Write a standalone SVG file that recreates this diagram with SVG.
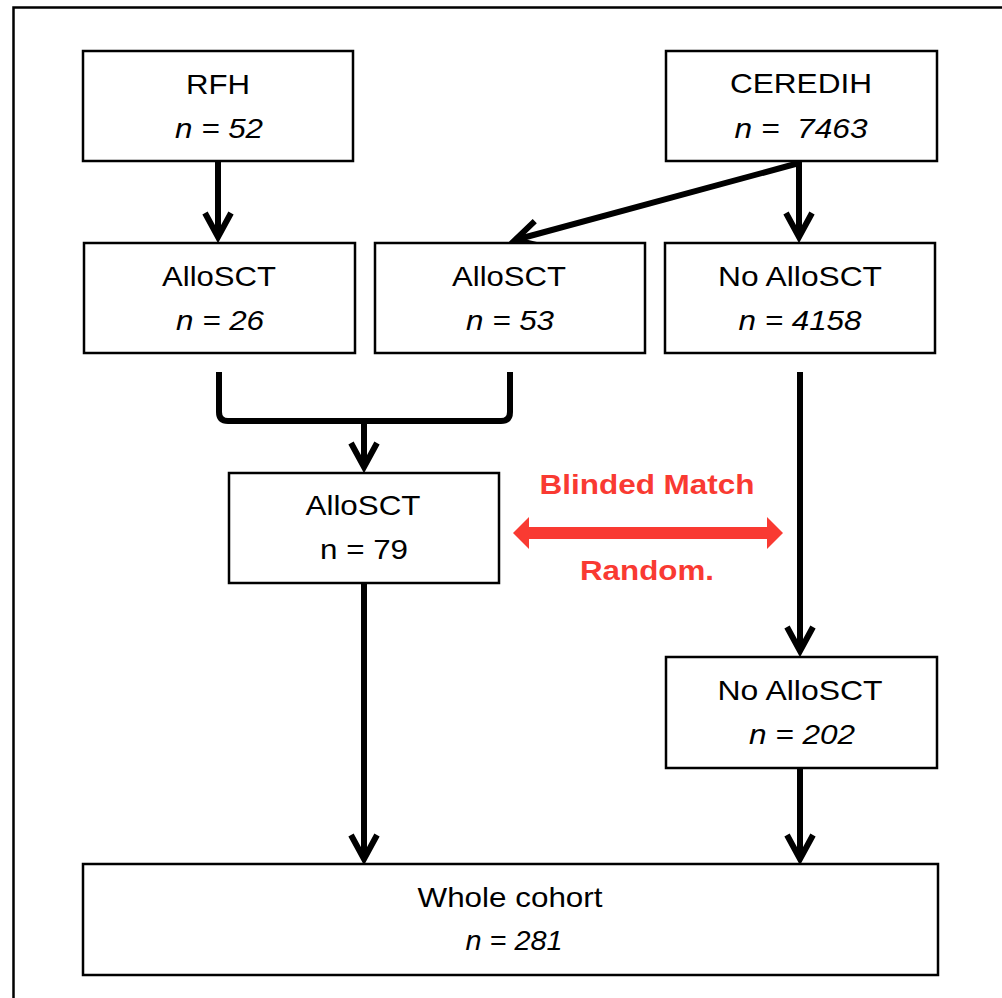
<svg xmlns="http://www.w3.org/2000/svg" width="1002" height="998" viewBox="0 0 1002 998">
<style>
.box{fill:#fff;stroke:#000;stroke-width:2.5}
.t{font-family:"Liberation Sans",Arial,sans-serif;font-size:28.5px;fill:#000;text-anchor:middle}
.i{font-style:italic}
.c{fill:none;stroke:#000;stroke-width:6;stroke-linecap:butt}
.red{font-family:"Liberation Sans",Arial,sans-serif;font-size:27.5px;font-weight:bold;fill:#F93A32;text-anchor:middle}
</style>
<defs>
<marker id="ah" markerUnits="userSpaceOnUse" markerWidth="40" markerHeight="40" viewBox="-30 -20 40 40" refX="0" refY="0" orient="auto">
<path d="M -24 -13 L 0 0 L -24 13" fill="none" stroke="#000" stroke-width="6" stroke-linejoin="miter"/>
</marker>
</defs>
<rect width="1002" height="998" fill="#fff"/>
<path d="M13.5 998 V7.5 H1002" fill="none" stroke="#000" stroke-width="2.5"/>

<g id="connectors">
<line class="c" x1="218" y1="162" x2="218" y2="237" marker-end="url(#ah)"/>
<line class="c" x1="799" y1="162" x2="799" y2="237" marker-end="url(#ah)"/>
<line class="c" x1="799" y1="163" x2="515" y2="240" marker-end="url(#ah)"/>
<path class="c" d="M219 372 V412 Q219 421 228 421 H501 Q510 421 510 412 V372"/>
<line class="c" x1="364" y1="421" x2="364" y2="467" marker-end="url(#ah)"/>
<line class="c" x1="364" y1="583" x2="364" y2="859" marker-end="url(#ah)"/>
<line class="c" x1="800" y1="372" x2="800" y2="651" marker-end="url(#ah)"/>
<line class="c" x1="800" y1="768" x2="800" y2="859" marker-end="url(#ah)"/>
<path d="M513 533 L529 517 L529 527 L767 527 L767 517 L783 533 L767 549 L767 539 L529 539 L529 549 Z" fill="#F93A32"/>
</g>

<g id="rfh"><rect class="box" x="83" y="51" width="270" height="110"/>
<text class="t" x="218" y="94" textLength="64" lengthAdjust="spacingAndGlyphs">RFH</text><text class="t i" x="219" y="138" textLength="88" lengthAdjust="spacingAndGlyphs">n = 52</text></g>

<g id="ceredih"><rect class="box" x="666" y="51" width="271" height="110"/>
<text class="t" x="801" y="93" textLength="142" lengthAdjust="spacingAndGlyphs">CEREDIH</text><text class="t i" x="801" y="138" xml:space="preserve" textLength="133" lengthAdjust="spacingAndGlyphs">n =  7463</text></g>

<g id="allo26"><rect class="box" x="84" y="243" width="271" height="110"/>
<text class="t" x="219" y="286" textLength="114" lengthAdjust="spacingAndGlyphs">AlloSCT</text><text class="t i" x="220" y="330" textLength="88" lengthAdjust="spacingAndGlyphs">n = 26</text></g>

<g id="allo53"><rect class="box" x="375" y="243" width="270" height="110"/>
<text class="t" x="509" y="286" textLength="114" lengthAdjust="spacingAndGlyphs">AlloSCT</text><text class="t i" x="510" y="330" textLength="88" lengthAdjust="spacingAndGlyphs">n = 53</text></g>

<g id="noallo4158"><rect class="box" x="665" y="243" width="270" height="110"/>
<text class="t" x="800" y="286" textLength="164" lengthAdjust="spacingAndGlyphs">No AlloSCT</text><text class="t i" x="800" y="330" textLength="123" lengthAdjust="spacingAndGlyphs">n = 4158</text></g>

<g id="allo79"><rect class="box" x="229" y="473" width="270" height="110"/>
<text class="t" x="363" y="515" textLength="115" lengthAdjust="spacingAndGlyphs">AlloSCT</text><text class="t" x="364" y="559" textLength="88" lengthAdjust="spacingAndGlyphs">n = 79</text></g>

<g id="match"><text class="red" x="647" y="494" textLength="215" lengthAdjust="spacingAndGlyphs">Blinded Match</text><text class="red" x="647" y="580" textLength="134" lengthAdjust="spacingAndGlyphs">Random.</text></g>

<g id="noallo202"><rect class="box" x="666" y="657" width="271" height="111"/>
<text class="t" x="800" y="700" textLength="165" lengthAdjust="spacingAndGlyphs">No AlloSCT</text><text class="t i" x="802" y="744" textLength="106" lengthAdjust="spacingAndGlyphs">n = 202</text></g>

<g id="whole"><rect class="box" x="83" y="864" width="855" height="111"/>
<text class="t" x="510" y="907" textLength="185" lengthAdjust="spacingAndGlyphs">Whole cohort</text><text class="t i" x="514" y="950" textLength="97" lengthAdjust="spacingAndGlyphs">n = 281</text></g>
</svg>
